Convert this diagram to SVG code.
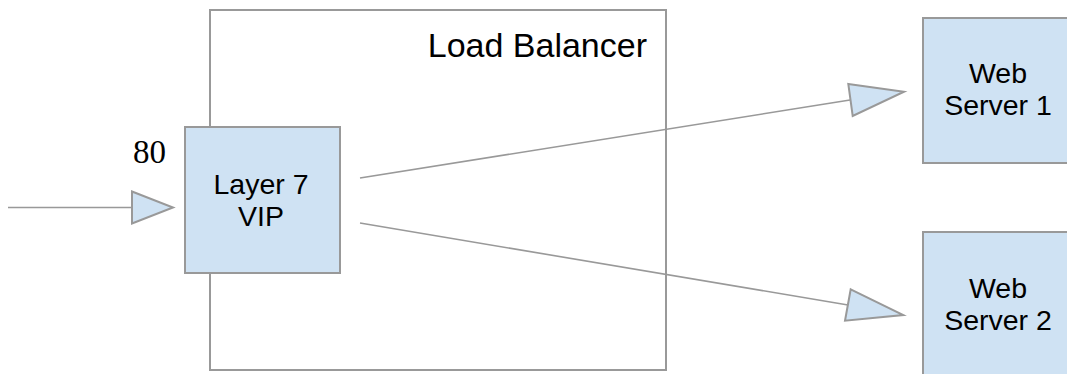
<svg xmlns="http://www.w3.org/2000/svg" width="1067" height="374" viewBox="0 0 1067 374">
<style>
.box{fill:#cfe2f3;stroke:#999999;stroke-width:2}
.frame{fill:#ffffff;stroke:#999999;stroke-width:2}
.line{stroke:#999999;stroke-width:1.6;fill:none}
.head{fill:#cfe2f3;stroke:#999999;stroke-width:2;stroke-linejoin:miter}
.lbl{font-family:"Liberation Sans",Arial,sans-serif;font-size:28.5px;fill:#000000;text-anchor:middle}
</style>
<rect width="1067" height="374" fill="#ffffff"/>
<g id="load-balancer">
<rect class="frame" x="210" y="10" width="456" height="360"/>
<text x="647" y="57" style="font-family:'Liberation Sans',Arial,sans-serif;font-size:34px;fill:#000;text-anchor:end">Load Balancer</text>
</g>
<g id="layer7-vip">
<rect class="box" x="185" y="127" width="155" height="146"/>
<text class="lbl" x="261" y="194">Layer 7</text>
<text class="lbl" x="261" y="226">VIP</text>
</g>
<g id="web-server-1">
<rect class="box" x="923" y="18" width="160" height="145"/>
<text class="lbl" x="998" y="83">Web</text>
<text class="lbl" x="998" y="115">Server 1</text>
</g>
<g id="web-server-2">
<rect class="box" x="923" y="232" width="160" height="160"/>
<text class="lbl" x="998" y="298">Web</text>
<text class="lbl" x="998" y="330">Server 2</text>
</g>
<g id="port-label">
<text x="133" y="163" style="font-family:'Liberation Serif','Times New Roman',serif;font-size:33px;fill:#000">80</text>
</g>
<g id="connectors">
<line class="line" x1="8" y1="207.5" x2="132" y2="207.5"/>
<polygon class="head" points="132,191.5 173,207.5 132,223.5"/>
<line class="line" x1="360" y1="178" x2="850" y2="100"/>
<polygon class="head" points="848.3,84 904,91.7 852.7,116"/>
<line class="line" x1="360" y1="223" x2="848" y2="305"/>
<polygon class="head" points="850.7,289.3 903.3,315 845,320.7"/>
</g>
</svg>
